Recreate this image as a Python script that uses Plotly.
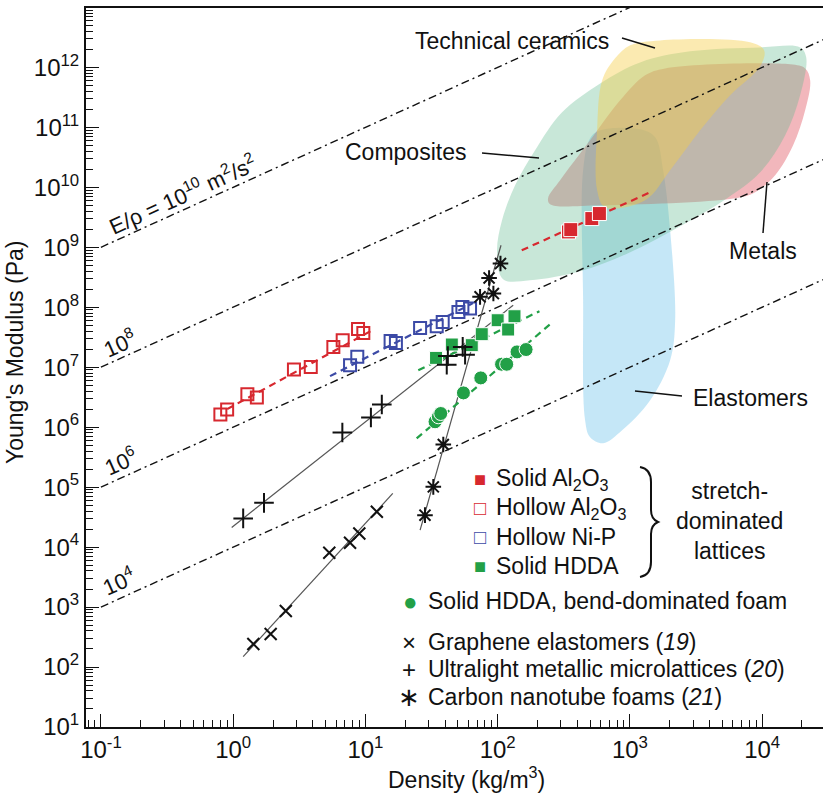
import numpy as np
import plotly.graph_objects as go

# ---------------- data (density kg/m^3, Young's modulus Pa) ----------------
hollow_al2o3_rho = [0.80, 0.90, 1.28, 1.51, 2.88, 3.86, 5.72, 6.73, 8.79, 9.64]
hollow_al2o3_E = [1.63e6, 1.97e6, 3.55e6, 3.13e6, 9.16e6, 1.01e7, 2.18e7, 2.82e7, 4.35e7, 3.73e7]
hollow_al2o3_fit_rho = [0.90, 11.2]
hollow_al2o3_fit_E = [2.0e6, 4.1e7]

hollow_nip_rho = [7.65, 8.68, 15.5, 17.0, 25.9, 34.6, 38.4, 50.5, 54.1, 61.8]
hollow_nip_E = [1.08e7, 1.49e7, 2.74e7, 2.54e7, 4.52e7, 4.82e7, 5.69e7, 8.35e7, 1.01e8, 9.51e7]
hollow_nip_fit_rho = [5.4, 65.0]
hollow_nip_fit_E = [7.1e6, 1.17e8]

solid_hdda_rho = [34.2, 45.0, 63.7, 75.8, 100, 120, 134]
solid_hdda_E = [1.43e7, 2.39e7, 2.33e7, 3.55e7, 6.07e7, 4.25e7, 7.08e7]
solid_hdda_fit_rho = [25.1, 207]
solid_hdda_fit_E = [8.9e6, 8.6e7]

foam_rho = [33.6, 35.6, 37.1, 55.1, 74.5, 107, 117, 140, 164]
foam_E = [1.23e6, 1.49e6, 1.69e6, 3.73e6, 6.63e6, 1.12e7, 1.12e7, 1.80e7, 1.97e7]
foam_fit_rho = [24.4, 264]
foam_fit_E = [6.5e5, 5.8e7]

solid_al2o3_rho = [343, 357, 515, 588]
solid_al2o3_E = [1.80e9, 1.97e9, 3.01e9, 3.65e9]
solid_al2o3_fit_rho = [152, 1380]
solid_al2o3_fit_E = [8.9e8, 8.0e9]

microlattice_rho = [1.19, 1.71, 6.69, 11.0, 13.3, 42.0, 41.2, 54.4, 56.7]
microlattice_E = [3.01e4, 5.47e4, 8.16e5, 1.45e6, 2.39e6, 1.53e7, 1.10e7, 2.18e7, 1.62e7]
microlattice_fit_rho = [0.974, 131]
microlattice_fit_E = [2.13e4, 1.08e8]

cnt_rho = [28.2, 32.6, 38.8, 73.6, 92.8, 86.1, 105]
cnt_E = [3.41e4, 1.01e5, 5.15e5, 1.49e8, 1.69e8, 3.08e8, 5.35e8]
cnt_fit_rho = [25.9, 106]
cnt_fit_E = [1.92e4, 1.08e9]

graphene_rho = [1.42, 1.92, 2.50, 5.33, 7.65, 8.99, 12.2]
graphene_E = [242, 355, 858, 8.04e3, 1.18e4, 1.69e4, 3.88e4]
graphene_fit_rho = [1.19, 16.1]
graphene_fit_E = [149, 7.85e4]

# specific-stiffness guide lines E/rho (m^2/s^2), drawn from rho = 0.1 upward
iso_specific_modulus = [1e10, 1e8, 1e6, 1e4]
iso_rho = [0.1, 1e5]

# material property regions (log10 density, log10 modulus)
composites_lrho = [2.041, 1.995, 2.033, 2.132, 2.283, 2.487, 2.775, 3.077, 3.455, 3.985, 4.287,
                   4.333, 4.287, 4.174, 3.985, 3.735, 3.380, 3.002, 2.623, 2.245]
composites_lE = [8.467, 8.917, 9.45, 10.033, 10.617, 11.25, 11.733, 12.083, 12.267, 12.333, 12.333,
                 12.167, 11.533, 10.867, 10.25, 9.817, 9.35, 8.917, 8.6, 8.45]
ceramics_lrho = [2.790, 2.888, 3.002, 3.228, 3.909, 4.015, 3.985, 3.758, 3.531, 3.304, 3.115,
                 2.812, 2.752, 2.752]
ceramics_lE = [11.783, 12.15, 12.367, 12.45, 12.417, 12.283, 12.017, 11.533, 10.95, 10.283, 9.783,
               9.667, 9.95, 10.95]
metals_lrho = [2.396, 2.381, 2.472, 2.699, 2.926, 3.115, 3.266, 4.212, 4.325, 4.363, 4.325,
               4.234, 4.098, 3.947, 3.796, 2.775]
metals_lE = [9.717, 9.817, 10.117, 10.783, 11.45, 11.867, 11.983, 12.05, 11.983, 11.783, 11.283,
             10.7, 10.2, 9.917, 9.817, 9.7]
elastomers_lrho = [2.699, 2.775, 3.077, 3.191, 3.251, 3.304, 3.342, 3.304, 3.153, 2.941, 2.797,
                   2.699, 2.661, 2.646, 2.646]
elastomers_lE = [10.817, 10.95, 10.967, 10.833, 10.283, 9.283, 7.783, 7.117, 6.45, 5.95, 5.733,
                 5.833, 6.117, 8.117, 10.283]

x_tick_vals = [0.1, 1, 10, 100, 1000, 10000]
x_tick_text = ["10<sup>-1</sup>", "10<sup>0</sup>", "10<sup>1</sup>", "10<sup>2</sup>",
               "10<sup>3</sup>", "10<sup>4</sup>"]
y_tick_vals = [10.0 ** k for k in range(1, 13)]
y_tick_text = ["10<sup>%d</sup>" % k for k in range(1, 13)]

# ---------------- layout geometry ----------------
W, H = 826, 796
ML, MR, MT, MB = 86, 3, 8, 69
PW, PH = W - ML - MR, H - MT - MB
FONT = "Liberation Sans, Arial, sans-serif"
BLACK = "#111111"
RED = "#d7282f"
BLUE = "#3c4aa6"
GREEN = "#22a047"
ANG = -24.4


def pxx(x):
    return (x - ML) / PW


def pyy(y):
    return (H - MB - y) / PH


fig = go.Figure()

# regions (bottom to top)
regions = [
    (elastomers_lrho, elastomers_lE, "rgba(110,195,235,0.40)"),
    (metals_lrho, metals_lE, "rgba(228,105,115,0.48)"),
    (composites_lrho, composites_lE, "rgba(95,185,140,0.34)"),
    (ceramics_lrho, ceramics_lE, "rgba(245,205,70,0.42)"),
]
for lr, le, col in regions:
    xs = list(10 ** np.array(lr)) + [10 ** lr[0]]
    ys = list(10 ** np.array(le)) + [10 ** le[0]]
    fig.add_trace(go.Scatter(x=xs, y=ys, mode="lines", fill="toself", fillcolor=col,
                             line=dict(width=0, shape="spline", smoothing=1.0),
                             hoverinfo="skip", showlegend=False))

# iso lines
for c in iso_specific_modulus:
    fig.add_trace(go.Scatter(x=iso_rho, y=[c * r for r in iso_rho], mode="lines",
                             line=dict(color=BLACK, width=1.4, dash="8px,4px,2px,4px"),
                             hoverinfo="skip", showlegend=False))

# fit lines
fits = [
    (graphene_fit_rho, graphene_fit_E, "#555555", 1.2, "solid"),
    (microlattice_fit_rho, microlattice_fit_E, "#555555", 1.2, "solid"),
    (cnt_fit_rho, cnt_fit_E, "#555555", 1.2, "solid"),
    (hollow_al2o3_fit_rho, hollow_al2o3_fit_E, RED, 2.2, "7px,5px"),
    (hollow_nip_fit_rho, hollow_nip_fit_E, BLUE, 2.2, "7px,5px"),
    (solid_hdda_fit_rho, solid_hdda_fit_E, GREEN, 2.2, "7px,5px"),
    (foam_fit_rho, foam_fit_E, GREEN, 2.2, "7px,5px"),
    (solid_al2o3_fit_rho, solid_al2o3_fit_E, RED, 2.2, "7px,5px"),
]
for fx, fy, col, w, d in fits:
    fig.add_trace(go.Scatter(x=fx, y=fy, mode="lines", line=dict(color=col, width=w, dash=d),
                             hoverinfo="skip", showlegend=False))

# markers
series = [
    ("Hollow Al2O3", hollow_al2o3_rho, hollow_al2o3_E,
     dict(symbol="square-open", size=12, color=RED, line=dict(width=2, color=RED))),
    ("Hollow Ni-P", hollow_nip_rho, hollow_nip_E,
     dict(symbol="square-open", size=12, color=BLUE, line=dict(width=2, color=BLUE))),
    ("Solid HDDA", solid_hdda_rho, solid_hdda_E,
     dict(symbol="square", size=13, color=GREEN, line=dict(width=1, color="white"))),
    ("Solid HDDA foam", foam_rho, foam_E,
     dict(symbol="circle", size=14, color=GREEN, line=dict(width=1, color="white"))),
    ("Solid Al2O3", solid_al2o3_rho, solid_al2o3_E,
     dict(symbol="square", size=14, color=RED, line=dict(width=1, color="white"))),
    ("Graphene elastomers", graphene_rho, graphene_E,
     dict(symbol="x-thin", size=12, color=BLACK, line=dict(width=2, color=BLACK))),
    ("Ultralight metallic microlattices", microlattice_rho, microlattice_E,
     dict(symbol="cross-thin", size=14, color=BLACK, line=dict(width=2, color=BLACK))),
    ("Carbon nanotube foams", cnt_rho, cnt_E,
     dict(symbol="asterisk", size=13, color=BLACK, line=dict(width=2, color=BLACK))),
]
for name, sx, sy, mk in series:
    fig.add_trace(go.Scatter(x=sx, y=sy, mode="markers", name=name, marker=mk,
                             showlegend=False))

ann = []


def text(x, y, s, size=23, xanchor="center", angle=0, color=BLACK):
    ann.append(dict(x=pxx(x), y=pyy(y), xref="paper", yref="paper", text=s, showarrow=False,
                    xanchor=xanchor, yanchor="middle", textangle=angle,
                    font=dict(family=FONT, size=size, color=color)))


# region labels
text(512, 41, "Technical ceramics")
text(405, 152, "Composites")
text(763, 251, "Metals")
text(750, 398, "Elastomers")

# iso line labels
text(182, 194, "E/ρ = 10<sup>10</sup> m<sup>2</sup>/s<sup>2</sup>", size=22, angle=ANG)
text(119, 343, "10<sup>8</sup>", size=22, angle=ANG)
text(120, 461, "10<sup>6</sup>", size=22, angle=ANG)
text(118, 581, "10<sup>4</sup>", size=22, angle=ANG)

# legend glyphs & texts
text(480, 479, "■", size=20, color=RED)
text(480, 508, "□", size=20, color=RED)
text(480, 537, "□", size=20, color=BLUE)
text(480, 566, "■", size=20, color=GREEN)
text(494, 479, "Solid Al<sub>2</sub>O<sub>3</sub>", xanchor="left")
text(494, 508, "Hollow Al<sub>2</sub>O<sub>3</sub>", xanchor="left")
text(494, 537, "Hollow Ni-P", xanchor="left")
text(494, 566, "Solid HDDA", xanchor="left")
text(674, 521, "stretch-<br>dominated<br>lattices", xanchor="left")
text(410, 601, "●", size=24, color=GREEN)
text(426, 601, "Solid HDDA, bend-dominated foam", xanchor="left")
text(409, 642, "×", size=24)
text(426, 642, "Graphene elastomers (<i>19</i>)", xanchor="left")
text(409, 669, "+", size=24)
text(426, 669, "Ultralight metallic microlattices (<i>20</i>)", xanchor="left")
text(409, 697, "∗", size=26)
text(426, 697, "Carbon nanotube foams (<i>21</i>)", xanchor="left")

# axis titles
text(15, 353, "Young's Modulus (Pa)", size=23, angle=-90)
text(466, 778, "Density (kg/m<sup>3</sup>)", size=23)

shapes = []


def seg(x0, y0, x1, y1, w=1.5):
    shapes.append(dict(type="line", xref="paper", yref="paper", x0=pxx(x0), y0=pyy(y0),
                       x1=pxx(x1), y1=pyy(y1), line=dict(color=BLACK, width=w)))


seg(622, 38, 655, 48)
seg(482, 153, 539, 158)
seg(763, 233, 767, 182)
seg(682, 396, 635, 391)

# brace
bp = [(640, 467), (651, 469), (651, 482), (651, 510), (651, 519), (658, 522),
      (651, 525), (651, 534), (651, 562), (651, 575), (640, 577)]
P = [(pxx(a), pyy(b)) for a, b in bp]
path = ("M %f,%f Q %f,%f %f,%f L %f,%f Q %f,%f %f,%f Q %f,%f %f,%f L %f,%f Q %f,%f %f,%f" % (
    P[0][0], P[0][1], P[1][0], P[1][1], P[2][0], P[2][1], P[3][0], P[3][1],
    P[4][0], P[4][1], P[5][0], P[5][1], P[6][0], P[6][1], P[7][0], P[7][1],
    P[8][0], P[8][1], P[9][0], P[9][1], P[10][0], P[10][1]))
shapes.append(dict(type="path", xref="paper", yref="paper", path=path,
                   line=dict(color=BLACK, width=2)))

x_minor = [k * 10.0 ** d for d in range(-2, 5) for k in range(2, 10)]
y_minor = [k * 10.0 ** d for d in range(0, 13) for k in range(2, 10)]

axis_common = dict(type="log", showgrid=False, zeroline=False, showline=True, linewidth=2,
                   linecolor=BLACK, ticks="inside", ticklen=13, tickwidth=1.3, tickcolor=BLACK,
                   tickmode="array", tickfont=dict(family=FONT, size=24, color=BLACK))

fig.update_layout(
    width=W, height=H, margin=dict(l=ML, r=MR, t=MT, b=MB, autoexpand=False),
    paper_bgcolor="white", plot_bgcolor="white", showlegend=False,
    xaxis=dict(axis_common, range=[-1.113, 4.46], tickvals=x_tick_vals, ticktext=x_tick_text,
               mirror=True,
               minor=dict(ticks="inside", ticklen=7, tickwidth=1, tickcolor=BLACK,
                          tickmode="array", tickvals=x_minor, showgrid=False)),
    yaxis=dict(axis_common, range=[1, 12.99], tickvals=y_tick_vals, ticktext=y_tick_text,
               minor=dict(ticks="inside", ticklen=7, tickwidth=1, tickcolor=BLACK,
                          tickmode="array", tickvals=y_minor, showgrid=False)),
    annotations=ann, shapes=shapes,
)

fig.write_html("out.html")
